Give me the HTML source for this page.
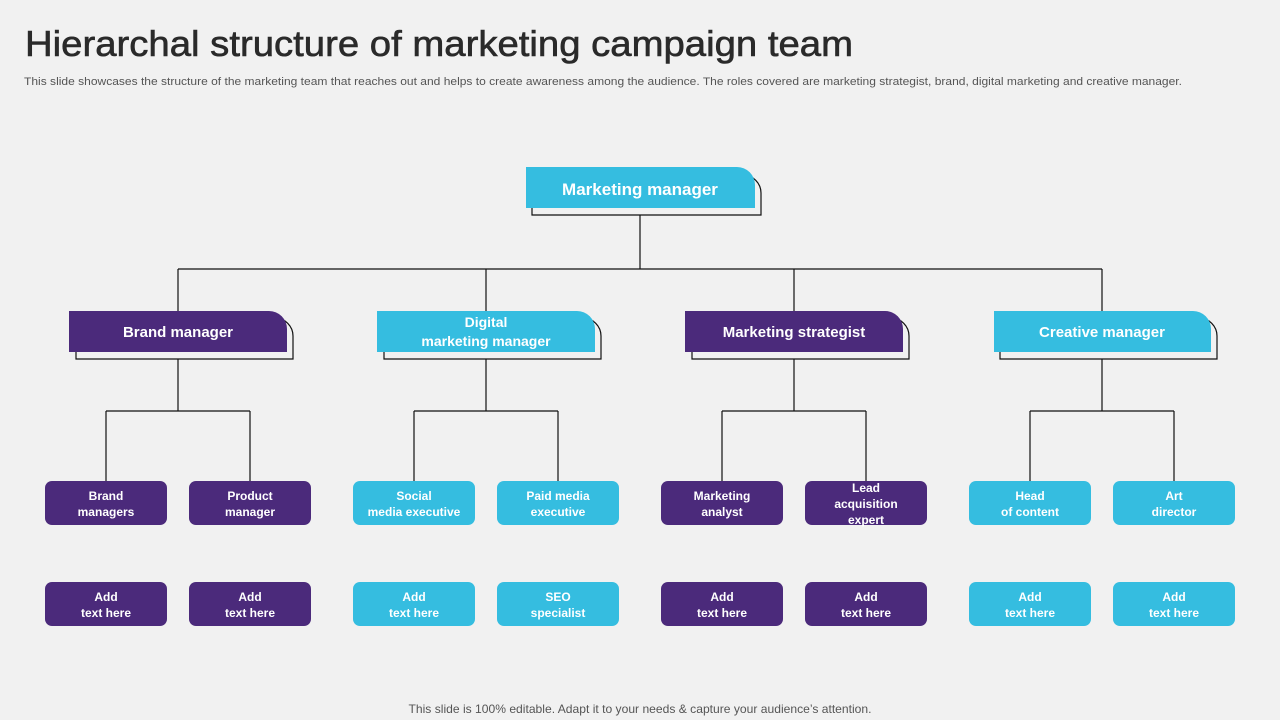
<!DOCTYPE html>
<html><head><meta charset="utf-8"><style>
html,body{margin:0;padding:0;background:#f1f1f1;}
svg{display:block;font-family:"Liberation Sans",sans-serif;}
.t{fill:#fff;font-weight:bold;text-anchor:middle;}
</style></head><body>
<svg width="1280" height="720" viewBox="0 0 1280 720">
<rect width="1280" height="720" fill="#f1f1f1"/>
<text x="25" y="56" font-size="36" fill="#2a2a2a" stroke="#2a2a2a" stroke-width="0.6" textLength="828" lengthAdjust="spacingAndGlyphs">Hierarchal structure of marketing campaign team</text>
<text x="24" y="85" font-size="11" fill="#555" textLength="1158" lengthAdjust="spacingAndGlyphs">This slide showcases the structure of the marketing team that reaches out and helps to create awareness among the audience. The roles covered are marketing strategist, brand, digital marketing and creative manager.</text>
<text x="640" y="713" font-size="12" fill="#555" text-anchor="middle" textLength="463" lengthAdjust="spacingAndGlyphs">This slide is 100% editable. Adapt it to your needs &amp; capture your audience’s attention.</text>

<g stroke="#111" stroke-width="1.2" fill="none">
<path d="M640 215V269M178 269H1102M178 269V311M486 269V311M794 269V311M1102 269V311"/>
<path d="M178 359V411M106 411H250M106 411V481M250 411V481"/>
<path d="M486 359V411M414 411H558M414 411V481M558 411V481"/>
<path d="M794 359V411M722 411H866M722 411V481M866 411V481"/>
<path d="M1102 359V411M1030 411H1174M1030 411V481M1174 411V481"/>
<path d="M532 175H743A18 18 0 0 1 761 193V215H532Z"/>
<path d="M76 318H275A18 18 0 0 1 293 336V359H76Z"/>
<path d="M384 318H583A18 18 0 0 1 601 336V359H384Z"/>
<path d="M692 318H891A18 18 0 0 1 909 336V359H692Z"/>
<path d="M1000 318H1199A18 18 0 0 1 1217 336V359H1000Z"/>
</g>
<path d="M526 167H737A18 18 0 0 1 755 185V208H526Z" fill="#35bde0"/>
<path d="M69 311H269A18 18 0 0 1 287 329V352H69Z" fill="#4b2a7b"/>
<path d="M377 311H577A18 18 0 0 1 595 329V352H377Z" fill="#35bde0"/>
<path d="M685 311H885A18 18 0 0 1 903 329V352H685Z" fill="#4b2a7b"/>
<path d="M994 311H1193A18 18 0 0 1 1211 329V352H994Z" fill="#35bde0"/>
<text class="t" x="640" y="195" font-size="17">Marketing manager</text>
<text class="t" x="178" y="337" font-size="15">Brand manager</text>
<text class="t" x="486" y="327" font-size="14">Digital</text>
<text class="t" x="486" y="346" font-size="14">marketing manager</text>
<text class="t" x="794" y="337" font-size="15">Marketing strategist</text>
<text class="t" x="1102" y="337" font-size="15">Creative manager</text>

<g>
<rect x="45" y="481" width="122" height="44" rx="7" fill="#4b2a7b"/>
<rect x="189" y="481" width="122" height="44" rx="7" fill="#4b2a7b"/>
<rect x="353" y="481" width="122" height="44" rx="7" fill="#35bde0"/>
<rect x="497" y="481" width="122" height="44" rx="7" fill="#35bde0"/>
<rect x="661" y="481" width="122" height="44" rx="7" fill="#4b2a7b"/>
<rect x="805" y="481" width="122" height="44" rx="7" fill="#4b2a7b"/>
<rect x="969" y="481" width="122" height="44" rx="7" fill="#35bde0"/>
<rect x="1113" y="481" width="122" height="44" rx="7" fill="#35bde0"/>
<rect x="45" y="582" width="122" height="44" rx="7" fill="#4b2a7b"/>
<rect x="189" y="582" width="122" height="44" rx="7" fill="#4b2a7b"/>
<rect x="353" y="582" width="122" height="44" rx="7" fill="#35bde0"/>
<rect x="497" y="582" width="122" height="44" rx="7" fill="#35bde0"/>
<rect x="661" y="582" width="122" height="44" rx="7" fill="#4b2a7b"/>
<rect x="805" y="582" width="122" height="44" rx="7" fill="#4b2a7b"/>
<rect x="969" y="582" width="122" height="44" rx="7" fill="#35bde0"/>
<rect x="1113" y="582" width="122" height="44" rx="7" fill="#35bde0"/>
</g>
<g class="t" font-size="12">
<text class="t" x="106" y="500">Brand</text><text class="t" x="106" y="516">managers</text>
<text class="t" x="250" y="500">Product</text><text class="t" x="250" y="516">manager</text>
<text class="t" x="414" y="500">Social</text><text class="t" x="414" y="516">media executive</text>
<text class="t" x="558" y="500">Paid media</text><text class="t" x="558" y="516">executive</text>
<text class="t" x="722" y="500">Marketing</text><text class="t" x="722" y="516">analyst</text>
<text class="t" x="866" y="492">Lead</text><text class="t" x="866" y="508">acquisition</text><text class="t" x="866" y="524">expert</text>
<text class="t" x="1030" y="500">Head</text><text class="t" x="1030" y="516">of content</text>
<text class="t" x="1174" y="500">Art</text><text class="t" x="1174" y="516">director</text>
<text class="t" x="106" y="601">Add</text><text class="t" x="106" y="617">text here</text>
<text class="t" x="250" y="601">Add</text><text class="t" x="250" y="617">text here</text>
<text class="t" x="414" y="601">Add</text><text class="t" x="414" y="617">text here</text>
<text class="t" x="558" y="601">SEO</text><text class="t" x="558" y="617">specialist</text>
<text class="t" x="722" y="601">Add</text><text class="t" x="722" y="617">text here</text>
<text class="t" x="866" y="601">Add</text><text class="t" x="866" y="617">text here</text>
<text class="t" x="1030" y="601">Add</text><text class="t" x="1030" y="617">text here</text>
<text class="t" x="1174" y="601">Add</text><text class="t" x="1174" y="617">text here</text>
</g>
</svg>
</body></html>
